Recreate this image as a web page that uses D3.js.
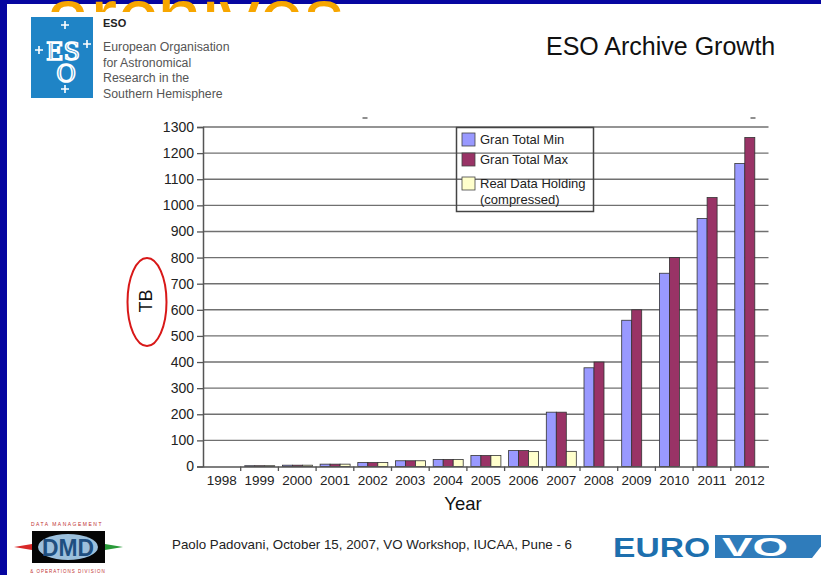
<!DOCTYPE html>
<html>
<head>
<meta charset="utf-8">
<script src="https://cdn.jsdelivr.net/npm/d3@7"></script>
<style>
  html, body { margin: 0; padding: 0; background: #0606a0; }
  svg { display: block; font-family: "Liberation Sans", Arial, sans-serif; }
</style>
</head>
<body>
<svg class="root"></svg>
<script>
var years = ["1998", "1999", "2000", "2001", "2002", "2003", "2004", "2005",
             "2006", "2007", "2008", "2009", "2010", "2011", "2012"];
var granMin  = [0, 3, 5, 9, 15, 22, 27, 42, 61, 208, 378, 560, 740, 950, 1160];
var granMax  = [0, 3, 5, 9, 15, 22, 27, 42, 61, 208, 400, 600, 800, 1030, 1260];
var realData = [0, 3, 5, 9, 15, 22, 27, 42, 57, 58, null, null, null, null, null];
var seriesNames = ["Gran Total Min", "Gran Total Max", "Real Data Holding"];
var yTicks = d3.range(0, 1301, 100);

var W = 821, H = 575,
    colors = ["#9999ff", "#993366", "#ffffcc"];

var svg = d3.select(".root").attr("width", W).attr("height", H);

// slide background
svg.append("rect").attr("width", W).attr("height", H).attr("fill", "#0606a0");
svg.append("rect").attr("x", 7).attr("y", 4).attr("width", W - 7).attr("height", H - 4).attr("fill", "#fff");

// cut-off orange title from the slide above
svg.append("clipPath").attr("id", "topclip")
  .append("rect").attr("x", 0).attr("y", 0).attr("width", W).attr("height", 12);
svg.append("text")
    .attr("clip-path", "url(#topclip)")
    .attr("x", 46).attr("y", 44)
    .attr("font-size", 80)
    .attr("fill", "#f7a600")
    .text("archives");

// ESO logo
var logo = svg.append("g");
logo.append("rect").attr("x", 31).attr("y", 17).attr("width", 62).attr("height", 81).attr("fill", "#1f84c6");
logo.append("text").attr("x", 63).attr("y", 60).attr("text-anchor", "middle")
    .attr("font-family", "DejaVu Serif, serif").attr("font-size", 24)
    .attr("fill", "#1f84c6").attr("stroke", "#fff").attr("stroke-width", 1.6)
    .text("ES");
logo.append("text").attr("x", 66).attr("y", 82).attr("text-anchor", "middle")
    .attr("font-family", "DejaVu Serif, serif").attr("font-size", 24)
    .attr("fill", "#1f84c6").attr("stroke", "#fff").attr("stroke-width", 1.6)
    .text("O");
[[65, 25], [39, 50], [87, 44], [65, 89]].forEach(function(p) {
  logo.append("path")
      .attr("d", "M" + (p[0] - 4) + "," + p[1] + "H" + (p[0] + 4) + "M" + p[0] + "," + (p[1] - 4) + "V" + (p[1] + 4))
      .attr("stroke", "#fff").attr("stroke-width", 1.6);
});
svg.append("text").attr("x", 103).attr("y", 27).attr("font-size", 11).attr("font-weight", "bold")
    .attr("fill", "#222").text("ESO");
["European Organisation", "for Astronomical", "Research in the", "Southern Hemisphere"].forEach(function(t, i) {
  svg.append("text").attr("x", 103).attr("y", 51 + i * 15.6).attr("font-size", 12.3)
      .attr("fill", "#555").text(t);
});

svg.append("text").attr("x", 546).attr("y", 55).attr("font-size", 25).attr("fill", "#111")
    .text("ESO Archive Growth");

// chart
var x = d3.scaleBand().domain(years).range([203, 768.5]).padding(0);
var xs = d3.scaleBand().domain([0, 1, 2]).range([4, 34]);
var y = d3.scaleLinear().domain([0, 1300]).range([466.5, 127]);

var grid = svg.append("g");
grid.selectAll("line").data(yTicks.slice(1)).enter().append("line")
    .attr("x1", 203).attr("x2", 768.5)
    .attr("y1", function(d) { return y(d); }).attr("y2", function(d) { return y(d); })
    .attr("stroke", "#707070").attr("stroke-width", 1.4);

// stray marks at the top of the plot
[365, 753].forEach(function(mx) {
  svg.append("line").attr("x1", mx - 2.5).attr("x2", mx + 2.5).attr("y1", 118).attr("y2", 118)
      .attr("stroke", "#444").attr("stroke-width", 1.2);
});

var yAxis = svg.append("g")
    .attr("transform", "translate(203,0)")
    .call(d3.axisLeft(y).tickValues(yTicks).tickFormat(d3.format("d")).tickSize(6).tickPadding(3));
yAxis.select(".domain").attr("stroke", "#555").attr("stroke-width", 1.5);
yAxis.selectAll(".tick line").attr("stroke", "#555").attr("stroke-width", 1.3);
yAxis.selectAll(".tick text").attr("font-size", 14).attr("fill", "#222")
    .attr("font-family", "Liberation Sans, Arial, sans-serif");

var all = [granMin, granMax, realData];
var groups = svg.append("g").selectAll("g").data(years).enter().append("g")
    .attr("transform", function(d) { return "translate(" + x(d) + ",0)"; });
groups.selectAll("rect")
    .data(function(d, i) {
      return all.map(function(s, k) { return { k: k, v: s[i] }; }).filter(function(o) { return o.v !== null; });
    })
  .enter().append("rect")
    .attr("x", function(d) { return xs(d.k); })
    .attr("width", xs.bandwidth())
    .attr("y", function(d) { return y(d.v); })
    .attr("height", function(d) { return y(0) - y(d.v); })
    .attr("fill", function(d) { return colors[d.k]; })
    .attr("stroke", "#333").attr("stroke-width", 0.8);

var xAxis = svg.append("g")
    .attr("transform", "translate(0,466.5)")
    .call(d3.axisBottom(x).tickSize(0).tickPadding(9));
xAxis.select(".domain").attr("stroke", "#555").attr("stroke-width", 1.5);
xAxis.selectAll(".tick text").attr("font-size", 13.5).attr("fill", "#222")
    .attr("font-family", "Liberation Sans, Arial, sans-serif");
svg.append("g").selectAll("line").data(years.slice(1)).enter().append("line")
    .attr("x1", function(d) { return x(d); }).attr("x2", function(d) { return x(d); })
    .attr("y1", 466.5).attr("y2", 471)
    .attr("stroke", "#555").attr("stroke-width", 1.3);

svg.append("text").attr("x", 463).attr("y", 510).attr("text-anchor", "middle")
    .attr("font-size", 18.5).attr("fill", "#111").text("Year");
svg.append("text").attr("transform", "translate(152,301)rotate(-90)").attr("text-anchor", "middle")
    .attr("font-size", 18).attr("fill", "#111").text("TB");
svg.append("ellipse").attr("cx", 147).attr("cy", 302).attr("rx", 19.5).attr("ry", 44)
    .attr("fill", "none").attr("stroke", "#d81818").attr("stroke-width", 2);

// legend
var legend = svg.append("g");
legend.append("rect").attr("x", 456.5).attr("y", 127.5).attr("width", 137).attr("height", 84)
    .attr("fill", "none").attr("stroke", "#444").attr("stroke-width", 1.5);
var legY = [133, 153, 177];
var legText = [[seriesNames[0]], [seriesNames[1]], [seriesNames[2], "(compressed)"]];
legY.forEach(function(ly, i) {
  legend.append("rect").attr("x", 462).attr("y", ly).attr("width", 13).attr("height", 13)
      .attr("fill", colors[i]).attr("stroke", "#444").attr("stroke-width", 0.8);
  legText[i].forEach(function(t, j) {
    legend.append("text").attr("x", 480).attr("y", ly + 11 + j * 16).attr("font-size", 13)
        .attr("fill", "#222").text(t);
  });
});

// footer
svg.append("text").attr("x", 172).attr("y", 549).attr("font-size", 13)
    .attr("font-family", "Liberation Sans Narrow, Liberation Sans, Arial, sans-serif")
    .attr("textLength", 400).attr("lengthAdjust", "spacingAndGlyphs")
    .attr("fill", "#222").text("Paolo Padovani, October 15, 2007, VO Workshop, IUCAA, Pune - 6");

// DMD logo
var dmd = svg.append("g");
dmd.append("text").attr("x", 67).attr("y", 526).attr("text-anchor", "middle").attr("font-size", 5)
    .attr("letter-spacing", 1.5).attr("fill", "#c03030").text("DATA MANAGEMENT");
dmd.append("rect").attr("x", 32).attr("y", 531).attr("width", 73).attr("height", 32).attr("fill", "#050505");
dmd.append("ellipse").attr("cx", 68).attr("cy", 547).attr("rx", 30).attr("ry", 13).attr("fill", "#9cc0dc");
dmd.append("text").attr("x", 68).attr("y", 556).attr("text-anchor", "middle").attr("font-size", 24)
    .attr("font-weight", "bold").attr("fill", "#1f4f80").attr("textLength", 52)
    .attr("lengthAdjust", "spacingAndGlyphs").text("DMD");
dmd.append("path").attr("d", "M14,547L32,544V550Z").attr("fill", "#d82828");
dmd.append("path").attr("d", "M123,547L105,544V550Z").attr("fill", "#2a9a3a");
dmd.append("text").attr("x", 68).attr("y", 573).attr("text-anchor", "middle").attr("font-size", 4.5)
    .attr("letter-spacing", 1).attr("fill", "#c03030").text("& OPERATIONS DIVISION");

// EURO VO logo
var ev = svg.append("g");
ev.append("text").attr("x", 613).attr("y", 557).attr("font-size", 27).attr("font-weight", "bold")
    .attr("fill", "#1d6fae").attr("textLength", 97).attr("lengthAdjust", "spacingAndGlyphs").text("EURO");
ev.append("path").attr("d", "M715,535H830L812,558H715Z").attr("fill", "#2f7cbb");
ev.append("text").attr("x", 722).attr("y", 556).attr("font-size", 25).attr("font-weight", "bold")
    .attr("fill", "#fff").attr("textLength", 66).attr("lengthAdjust", "spacingAndGlyphs").text("VO");
</script>
</body>
</html>
